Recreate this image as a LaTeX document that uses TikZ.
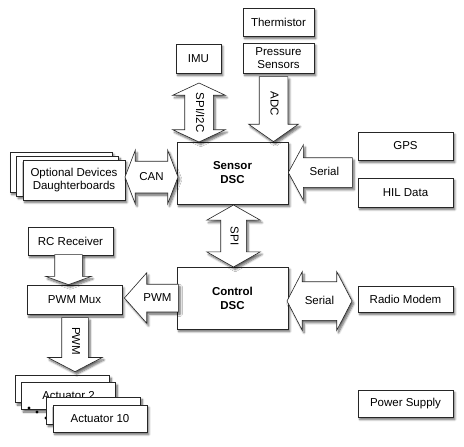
\documentclass[tikz,border=0pt]{standalone}
\usepackage{fontspec}
\setmainfont{Liberation Sans}
\usetikzlibrary{shapes.arrows,shadows.blur}

\newcommand{\atext}[1]{\makebox[0pt]{#1}}

\tikzset{
  shd/.style={blur shadow={shadow xshift=1.8pt, shadow yshift=-2.5pt, shadow blur steps=6, shadow opacity=60}},
  blk/.style={draw=black!85, line width=0.6pt, fill=white, shd, align=center, inner sep=1pt,
    font=\fontsize{11.5}{13.5}\selectfont},
  dsc/.style={blk, minimum width=111pt, minimum height=62pt, font=\fontsize{11.5}{14}\selectfont\bfseries},
  side/.style={blk, minimum width=95pt, minimum height=28pt},
  act/.style={blk, minimum width=94pt, minimum height=27pt},
  opt/.style={blk, minimum width=102pt, minimum height=40pt},
  arr/.style={draw=black!85, line width=0.6pt, fill=white, shd, text height=8pt, text depth=2pt,
    inner xsep=0pt, minimum width=0pt, font=\fontsize{11.5}{13.5}\selectfont},
}

\begin{document}
\begin{tikzpicture}[x=1pt,y=-1pt]
\useasboundingbox (0,0) rectangle (464,447);

% sensors on top
\node[blk, minimum width=71pt, minimum height=28pt] (therm) at (278.5,22) {Thermistor};
\node[blk, minimum width=71pt, minimum height=30pt] (press) at (278.5,58) {Pressure\\Sensors};
\node[blk, minimum width=45pt, minimum height=29pt] (imu) at (198.5,58.5) {IMU};

% the two DSCs
\node[dsc] (sensor) at (232.5,173) {Sensor\\DSC};
\node[dsc] (control) at (232.5,298) {Control\\DSC};

% right column
\node[side] (gps) at (405.5,146) {GPS};
\node[side, minimum height=29pt] (hil) at (405.5,192.5) {HIL Data};
\node[side, minimum height=26pt] (radio) at (405.5,299) {Radio Modem};
\node[side, minimum height=27pt] (power) at (405.5,403.5) {Power Supply};

% left column
\node[blk, minimum width=85pt, minimum height=28pt] (rc) at (70.5,241) {RC Receiver};
\node[side, minimum height=29pt] (mux) at (74.5,300) {PWM Mux};

\node[opt] (opt3) at (61,172) {};
\node[opt] (opt2) at (67.5,176) {};
\node[opt] (opt1) at (74,180) {Optional Devices\\Daughterboards};

\node[act] (act1) at (62.5,389) {};
\node[act] (act2) at (68.5,396) {Actuator 2};
\fill (29,408) circle (1.6pt) (37,412) circle (1.6pt) (46,418) circle (1.6pt);
\node[act] (act9) at (93.5,410.5) {};
\node[act] (act10) at (100,418.5) {Actuator 10};

% bus arrows
\node[arr, double arrow, rotate=-90, minimum height=59pt, inner ysep=9pt,
  double arrow head extend=12pt, double arrow tip angle=130] (spii2c) at (199,112.5) {\atext{SPI/I2C}};
\node[arr, single arrow, rotate=-90, anchor=tip, minimum height=65pt, inner ysep=9pt,
  single arrow head extend=10.5pt, single arrow tip angle=110] (adc) at (273.5,142) {\atext{ADC}};
\node[arr, double arrow, minimum height=53pt, inner ysep=10.5pt,
  double arrow head extend=11pt, double arrow tip angle=138] (can) at (151.5,177) {\atext{CAN}};
\node[arr, single arrow, shape border rotate=180, anchor=tip, minimum height=64pt, inner ysep=9.5pt,
  single arrow head extend=13pt, single arrow tip angle=123] (ser1) at (288,172.5) {\atext{Serial}};
\node[arr, double arrow, rotate=-90, minimum height=62pt, inner ysep=7.5pt,
  double arrow head extend=14pt, double arrow tip angle=121] (spi) at (233.5,236) {\atext{SPI}};
\node[arr, single arrow, shape border rotate=180, anchor=tip, minimum height=54pt, inner ysep=8.5pt,
  single arrow head extend=11.5pt, single arrow tip angle=97] (pwm1) at (124,298) {\atext{PWM}};
\node[arr, double arrow, minimum height=65pt, inner ysep=14pt,
  double arrow head extend=10pt, double arrow tip angle=125] (ser2) at (319.5,301) {\atext{Serial}};
\node[arr, single arrow, rotate=-90, anchor=tip, minimum height=30pt, inner ysep=8.5pt,
  single arrow head extend=9pt, single arrow tip angle=140] (rcmux) at (68.5,285) {};
\node[arr, single arrow, rotate=-90, anchor=tip, minimum height=54pt, inner ysep=8pt,
  single arrow head extend=14pt, single arrow tip angle=125] (pwm2) at (75,372) {\atext{PWM}};
\end{tikzpicture}
\end{document}
